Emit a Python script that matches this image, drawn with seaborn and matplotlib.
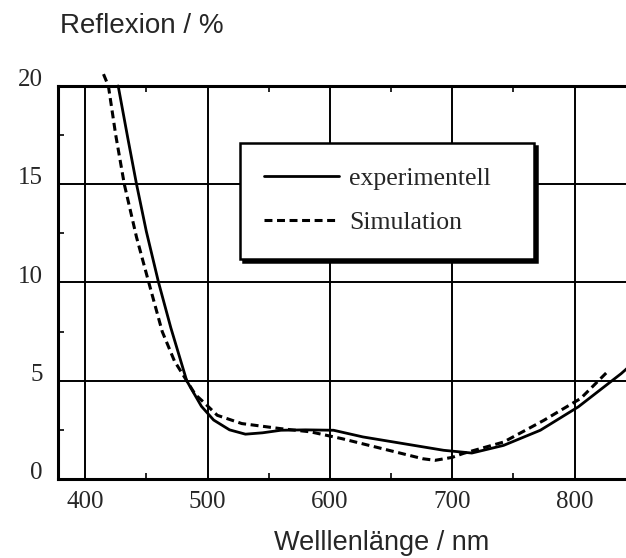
import numpy as np
import pandas as pd
import matplotlib
matplotlib.use("Agg")
import matplotlib.pyplot as plt
import matplotlib.transforms as mtransforms
import seaborn as sns
from matplotlib.ticker import MultipleLocator

# values
wl_exp = [427, 435, 442, 450, 460, 470, 483, 495, 505, 518, 531, 545, 560, 580, 603, 627, 660, 693, 716, 742, 772, 803, 838, 846]
r_exp = [20.0, 17.3, 15.0, 12.6, 10.0, 7.7, 5.0, 3.7, 3.0, 2.5, 2.28, 2.35, 2.48, 2.5, 2.48, 2.14, 1.8, 1.46, 1.32, 1.71, 2.48, 3.67, 5.36, 5.8]

wl_sim = [415, 419, 425, 432, 442, 452, 463, 473, 483, 490, 498, 508, 528, 560, 584, 610, 643, 676, 686, 700, 709, 742, 775, 805, 828]
r_sim = [20.6, 20.0, 17.5, 15.0, 12.3, 10.0, 7.5, 6.0, 5.0, 4.3, 3.84, 3.24, 2.82, 2.56, 2.4, 2.05, 1.54, 1.03, 0.95, 1.1, 1.3, 1.88, 2.99, 4.1, 5.53]

x_ticks = [400, 500, 600, 700, 800]
y_ticks = [0, 5, 10, 15, 20]

sns.set_style("white")
serif = ["Liberation Serif", "DejaVu Serif"]
sans = ["Liberation Sans", "DejaVu Sans"]

fig = plt.figure(figsize=(6.26, 5.58), dpi=100)
ax = fig.add_axes([0.093, 0.1416, 0.907, 0.7044])

sns.lineplot(x=wl_exp, y=r_exp, ax=ax, color="black", lw=2.0, sort=False,
             label="experimentell", clip_on=False)
sns.lineplot(x=wl_sim, y=r_sim, ax=ax, color="black", lw=2.2, sort=False,
             linestyle=(0, (2.6, 1.5)), label="Simulation", clip_on=False)

ax.set_xlim(378, 842)
ax.set_ylim(0, 20)
ax.set_xticks(x_ticks)
ax.set_yticks(y_ticks)
ax.xaxis.set_minor_locator(MultipleLocator(50))
ax.yaxis.set_minor_locator(MultipleLocator(2.5))
ax.grid(True, which="major", color="black", lw=1.4)
ax.tick_params(which="major", length=0, labelsize=18)
ax.tick_params(axis="x", which="major", pad=9)
ax.tick_params(axis="y", which="major", pad=11)
ax.tick_params(which="minor", direction="in", length=4, width=1.4, top=True, bottom=True, left=True)
up = mtransforms.ScaledTranslation(0, 6 / 72, fig.dpi_scale_trans)
for lbl in ax.get_xticklabels() + ax.get_yticklabels():
    lbl.set_family(serif)
for lbl in ax.get_yticklabels():
    lbl.set_transform(lbl.get_transform() + up)

for side in ["left", "bottom", "top"]:
    ax.spines[side].set_visible(True)
    ax.spines[side].set_color("black")
    ax.spines[side].set_linewidth(2.2)
ax.spines["right"].set_visible(False)

ax.set_xlabel("")
ax.set_ylabel("")

leg = ax.legend(loc="upper left", bbox_to_anchor=(0.32, 0.855, 0.518, 0.0), mode="expand",
                borderaxespad=0, frameon=True, fancybox=False,
                shadow={"color": "black", "alpha": 1},
                prop={"family": serif, "size": 18.5}, handlelength=2.9,
                handletextpad=0.4, labelspacing=0.82, borderpad=0.95)
leg.get_frame().set_edgecolor("black")
leg.get_frame().set_linewidth(1.8)
leg.get_frame().set_alpha(1)

fig.text(0.096, 0.953, "Reflexion / %", fontsize=20, family=sans, va="center", ha="left")
fig.text(0.610, 0.027, "Welllenlänge / nm", fontsize=19.5, family=sans, va="center", ha="center")

fig.savefig("out.png", dpi=100)
